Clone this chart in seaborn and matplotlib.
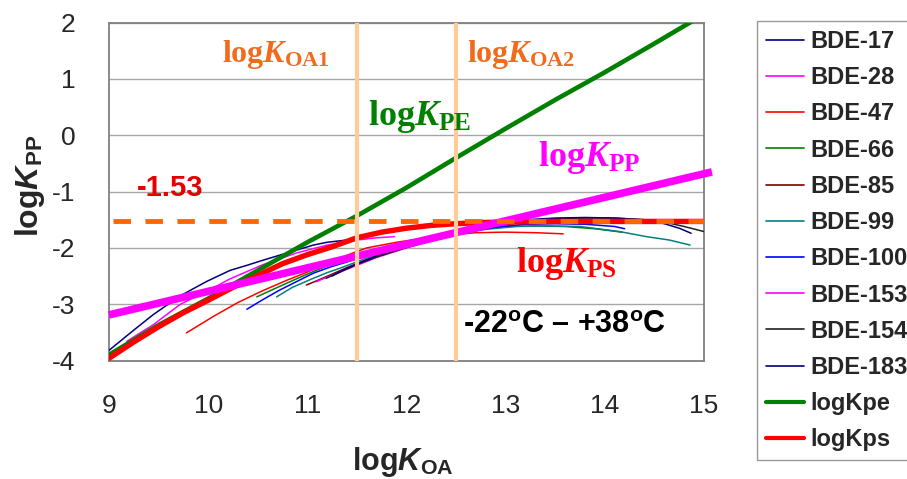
import numpy as np
import pandas as pd
import matplotlib
matplotlib.use("Agg")
import matplotlib.pyplot as plt
import seaborn as sns
from matplotlib.lines import Line2D

# ---------------- data ----------------
bde17_x = [9.0, 9.25, 9.45, 9.72, 9.98, 10.22, 10.39, 10.55, 10.72, 10.89, 11.06, 11.2, 11.45]
bde17_y = [-3.82, -3.46, -3.18, -2.85, -2.60, -2.40, -2.31, -2.22, -2.13, -2.04, -1.95, -1.90, -1.85]

bde28_x = [9.18, 9.45, 9.72, 10.0, 10.22, 10.55, 10.89, 11.2, 11.5, 11.7, 11.88]
bde28_y = [-3.66, -3.36, -3.00, -2.76, -2.55, -2.30, -2.09, -1.95, -1.86, -1.82, -1.80]

bde47_x = [9.78, 10.05, 10.3, 10.55, 10.8, 11.0, 11.23, 11.43, 11.6, 11.9, 12.2, 12.5, 12.7, 13.0, 13.3, 13.58]
bde47_y = [-3.51, -3.22, -2.97, -2.76, -2.57, -2.43, -2.25, -2.11, -2.00, -1.90, -1.82, -1.76, -1.73, -1.72, -1.73, -1.75]

bde66_x = [10.49, 10.7, 10.89, 11.06, 11.23, 11.5, 11.8, 12.1, 12.4, 12.7, 13.0, 13.3, 13.6, 13.9, 14.17]
bde66_y = [-2.87, -2.70, -2.55, -2.42, -2.30, -2.13, -1.98, -1.86, -1.76, -1.67, -1.62, -1.61, -1.62, -1.66, -1.72]

bde85_x = [10.99, 11.1, 11.23, 11.4, 11.6, 11.9, 12.2, 12.5, 12.8, 13.1, 13.4, 13.7]
bde85_y = [-2.66, -2.58, -2.48, -2.35, -2.20, -2.04, -1.89, -1.75, -1.64, -1.56, -1.52, -1.52]

bde99_x = [10.69, 10.85, 11.06, 11.2, 11.33, 11.6, 11.9, 12.2, 12.5, 12.8, 13.1, 13.4, 13.75, 14.15, 14.42, 14.65, 14.86]
bde99_y = [-2.87, -2.70, -2.54, -2.44, -2.36, -2.18, -2.02, -1.88, -1.76, -1.67, -1.62, -1.61, -1.62, -1.71, -1.80, -1.86, -1.95]

bde100_x = [10.39, 10.55, 10.72, 10.89, 11.06, 11.23, 11.4, 11.7, 12.0, 12.3, 12.6, 12.9, 13.2, 13.5, 13.8, 14.1, 14.2]
bde100_y = [-3.09, -2.92, -2.75, -2.60, -2.45, -2.34, -2.25, -2.08, -1.94, -1.82, -1.72, -1.63, -1.58, -1.57, -1.58, -1.62, -1.66]

bde153_x = [11.09, 11.2, 11.33, 11.5, 11.7, 12.0, 12.3, 12.6, 12.9, 13.2, 13.5, 13.8, 14.1]
bde153_y = [-2.60, -2.52, -2.43, -2.31, -2.17, -2.00, -1.85, -1.72, -1.61, -1.54, -1.51, -1.51, -1.53]

bde154_x = [11.19, 11.35, 11.5, 11.7, 12.0, 12.3, 12.6, 12.9, 13.2, 13.5, 13.8, 14.1, 14.4, 14.6, 14.8, 15.0]
bde154_y = [-2.54, -2.41, -2.29, -2.16, -1.99, -1.85, -1.71, -1.60, -1.52, -1.48, -1.47, -1.47, -1.50, -1.54, -1.62, -1.71]

bde183_x = [11.25, 11.4, 11.6, 11.8, 12.0, 12.3, 12.6, 12.9, 13.2, 13.5, 13.8, 14.1, 14.4, 14.6, 14.75, 14.87]
bde183_y = [-2.50, -2.36, -2.22, -2.05, -1.93, -1.80, -1.68, -1.58, -1.50, -1.47, -1.46, -1.47, -1.50, -1.57, -1.65, -1.74]

kpe_x = [9.0, 9.5, 10.0, 10.5, 11.0, 11.5, 12.0, 12.5, 13.0, 13.5, 14.0, 14.5, 15.0]
kpe_y = [-3.90, -3.37, -2.90, -2.40, -1.90, -1.43, -0.93, -0.40, 0.12, 0.63, 1.12, 1.63, 2.15]

kps_x = [9.0, 9.25, 9.5, 9.75, 10.0, 10.25, 10.5, 10.75, 11.0, 11.25, 11.5, 11.75, 12.0, 12.25, 12.5, 12.75, 13.0, 13.5, 14.0, 14.5, 15.0]
kps_y = [-3.96, -3.67, -3.40, -3.15, -2.93, -2.70, -2.49, -2.28, -2.12, -1.98, -1.82, -1.72, -1.65, -1.60, -1.57, -1.55, -1.54, -1.53, -1.53, -1.53, -1.53]

kpp_x = [9.0, 15.08]
kpp_y = [-3.19, -0.65]

plateau_value = -1.53
koa1 = 11.5
koa2 = 12.5

bde_names = ["BDE-17", "BDE-28", "BDE-47", "BDE-66", "BDE-85", "BDE-99",
             "BDE-100", "BDE-153", "BDE-154", "BDE-183"]
bde_xs = [bde17_x, bde28_x, bde47_x, bde66_x, bde85_x, bde99_x, bde100_x, bde153_x, bde154_x, bde183_x]
bde_ys = [bde17_y, bde28_y, bde47_y, bde66_y, bde85_y, bde99_y, bde100_y, bde153_y, bde154_y, bde183_y]
bde_colors = ["#000080", "#FF00FF", "#FF0000", "#008000", "#800000", "#008080",
              "#0000FF", "#FF00FF", "#222222", "#000080"]

x_ticks = [9, 10, 11, 12, 13, 14, 15]
y_ticks = [-4, -3, -2, -1, 0, 1, 2]

# ---------------- style ----------------
sns.set_style("white")
plt.rcParams["font.family"] = ["Liberation Sans", "DejaVu Sans"]
plt.rcParams["mathtext.fontset"] = "custom"
plt.rcParams["mathtext.rm"] = "Liberation Serif:bold"
plt.rcParams["mathtext.bf"] = "Liberation Serif:bold"
plt.rcParams["mathtext.it"] = "Liberation Serif:bold:italic"
plt.rcParams["mathtext.sf"] = "Liberation Sans:bold"
plt.rcParams["mathtext.cal"] = "Liberation Sans:bold:italic"
plt.rcParams["lines.scale_dashes"] = False

fig = plt.figure(figsize=(9.07, 4.79), dpi=100)
ax = fig.add_axes([109 / 907, 1 - 360.5 / 479, 595 / 907, 337.8 / 479])

for name, xs, ys, c in zip(bde_names, bde_xs, bde_ys, bde_colors):
    df = pd.DataFrame({"x": xs, "y": ys})
    sns.lineplot(data=df, x="x", y="y", ax=ax, color=c, lw=1.1, sort=False,
                 estimator=None, zorder=3)

sns.lineplot(x=kpe_x, y=kpe_y, ax=ax, color="#008000", lw=3.3, sort=False, estimator=None, zorder=4)
sns.lineplot(x=kps_x, y=kps_y, ax=ax, color="#FF0000", lw=3.9, sort=False, estimator=None, zorder=5)
sns.lineplot(x=kpp_x, y=kpp_y, ax=ax, color="#FF00FF", lw=5.5, sort=False, estimator=None, zorder=6)
ax.lines[-1].set_clip_on(False)
ax.lines[-1].set_solid_capstyle("butt")

ax.axhline(plateau_value, xmin=0.006, xmax=1, color="#FF6600", lw=3.5,
           dashes=(12.6, 10.4), zorder=7)
for v in (koa1, koa2):
    ax.axvline(v, color="#FFCC99", lw=3.0, zorder=8)

ax.set_xlim(9, 15)
ax.set_ylim(-4, 2)
ax.set_xticks(x_ticks)
ax.set_yticks(y_ticks)
ax.set_xticklabels([str(t) for t in x_ticks])
ax.set_yticklabels([str(t) for t in y_ticks])
ax.tick_params(axis="x", direction="in", length=6, width=1, color="#808080",
               labelsize=19, pad=24)
ax.tick_params(axis="y", length=0, labelsize=19, pad=24)
ax.yaxis.grid(True, color="#A6A6A6", lw=1.0)
ax.xaxis.grid(False)
ax.set_axisbelow(True)
for s in ax.spines.values():
    s.set_color("#808080")
    s.set_linewidth(1.3)
ax.set_xlabel("")
ax.set_ylabel("")

# axis labels
fig.text(403 / 907, 1 - 462 / 479, r"log$\mathcal{K}_{\mathsf{OA}}$", ha="center", va="center",
         fontsize=22, fontweight="bold", family="Liberation Sans")
fig.text(30 / 907, 1 - 186 / 479, r"log$\mathcal{K}_{\mathsf{PP}}$", ha="center", va="center",
         rotation=90, fontsize=23, fontweight="bold", family="Liberation Sans")

# annotations
serif = dict(family="Liberation Serif", fontweight="bold", ha="left", va="baseline", zorder=10)
ax.text(10.14, 1.30, r"log$\mathit{K}_{\mathrm{OA1}}$", color="#F26B1D", fontsize=23, **serif)
ax.text(12.61, 1.30, r"log$\mathit{K}_{\mathrm{OA2}}$", color="#F26B1D", fontsize=23, **serif)
ax.text(11.61, 0.18, r"log$\mathit{K}_{\mathrm{PE}}$", color="#008000", fontsize=26, **serif)
ax.text(13.33, -0.54, r"log$\mathit{K}_{\mathrm{PP}}$", color="#FF00FF", fontsize=26, **serif)
ax.text(13.10, -2.43, r"log$\mathit{K}_{\mathrm{PS}}$", color="#FF0000", fontsize=26, **serif)
ax.text(9.28, -1.08, "-1.53", color="#E60000", fontsize=21, fontweight="bold",
        family="Liberation Sans", ha="left", va="baseline", zorder=10)
ax.text(12.57, -3.51, r"-22$^{\mathsf{o}}$C – +38$^{\mathsf{o}}$C", color="black", fontsize=22,
        fontweight="bold", family="Liberation Sans", ha="left", va="baseline", zorder=10)

# legend
handles = [Line2D([], [], color=c, lw=1.2) for c in bde_colors]
handles += [Line2D([], [], color="#008000", lw=3.0), Line2D([], [], color="#FF0000", lw=3.0)]
labels = bde_names + ["logKpe", "logKps"]
leg = fig.legend(handles, labels, loc="upper left", bbox_to_anchor=(757 / 907, 1 - 21 / 479),
                 bbox_transform=fig.transFigure, frameon=True, fancybox=False,
                 edgecolor="#808080", prop=dict(family="Liberation Sans", weight="bold", size=17),
                 handlelength=1.6, handletextpad=0.3, labelspacing=0.56, borderpad=0.38,
                 borderaxespad=0)
leg.get_frame().set_linewidth(1.0)

fig.savefig("out.png", dpi=100)
